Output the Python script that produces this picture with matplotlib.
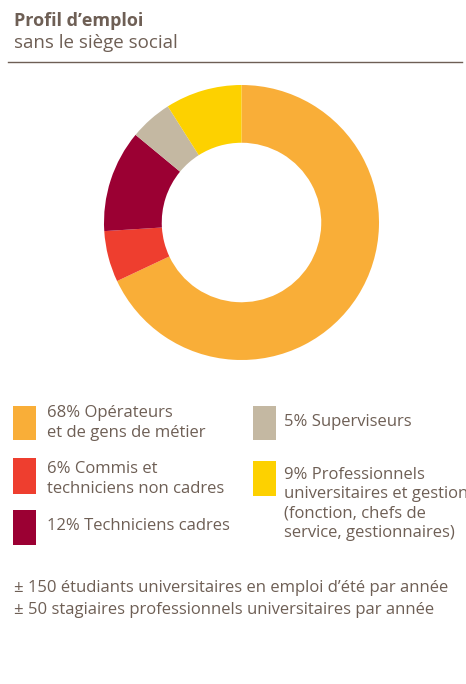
import matplotlib.pyplot as plt
from matplotlib.patches import Rectangle

# data
shares = [68, 6, 12, 5, 9]
colors = ['#F9AE38', '#EE3E2F', '#9B0033', '#C4B8A2', '#FDD100']
labels = [
    '68% Opérateurs\net de gens de métier',
    '6% Commis et\ntechniciens non cadres',
    '12% Techniciens cadres',
    '5% Superviseurs',
    '9% Professionnels\nuniversitaires et gestion\n(fonction, chefs de\nservice, gestionnaires)',
]
notes = [
    '± 150 étudiants universitaires en emploi d’été par année',
    '± 50 stagiaires professionnels universitaires par année',
]

W, H = 466, 684
TXT = '#6E5F55'
plt.rcParams['font.family'] = ['Open Sans', 'DejaVu Sans']

fig = plt.figure(figsize=(W / 100, H / 100), dpi=100)


def fx(px):
    return px / W


def fy(py):
    return 1 - py / H


fig.text(fx(14), fy(21), 'Profil d’emploi', fontsize=13, fontweight='bold',
         color=TXT, va='center')
fig.text(fx(14), fy(43), 'sans le siège social', fontsize=13.5, color=TXT, va='center')
fig.add_artist(plt.Line2D([fx(8), fx(462)], [fy(62), fy(62)], color='#6E5F55', lw=1))

# donut
ax = fig.add_axes([fx(104), fy(360), fx(275), 275 / H])
ax.pie(shares, colors=colors, startangle=90, counterclock=False,
       wedgeprops=dict(width=0.42, edgecolor='none'))
ax.set_xlim(-1, 1)
ax.set_ylim(-1, 1)
ax.set_aspect('equal')
ax.axis('off')

# legend
# (square x, square top, square bottom, text x, text center y)
slots = [
    (13, 406, 440, 47, 423),
    (13, 458, 494, 47, 479),
    (13, 510, 545, 47, 526),
    (253, 406, 440, 284, 422),
    (253, 461, 496, 284, 504),
]
for (sx, top, bot, tx, ty), c, lab in zip(slots, colors, labels):
    fig.add_artist(Rectangle((fx(sx), fy(bot)), fx(23), (bot - top) / H,
                             transform=fig.transFigure, color=c, lw=0))
    fig.text(fx(tx), fy(ty), lab, fontsize=12, color=TXT, va='center',
             linespacing=1.3)

for i, n in enumerate(notes):
    fig.text(fx(14), fy(588 + 22 * i), n, fontsize=12, color=TXT, va='center')

fig.savefig('out.png', dpi=100, facecolor='white')
